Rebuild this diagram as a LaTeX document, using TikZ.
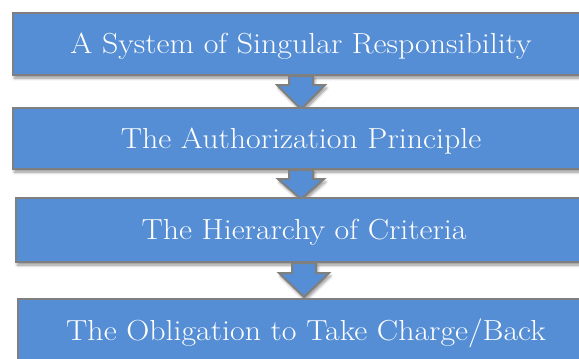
\documentclass[tikz,border=0pt]{standalone}
\usepackage{graphicx}
\usetikzlibrary{shadows.blur}
\definecolor{boxblue}{RGB}{85,142,213}
\definecolor{boxgray}{RGB}{127,127,127}
\newcommand{\wide}[1]{\raisebox{-2.5pt}[\height][\depth]{\scalebox{1.1}[1]{#1}}}
\tikzset{
  stepbox/.style={draw=boxgray, line width=2pt, fill=boxblue, text=white,
    rectangle, anchor=north west, minimum width=576pt, inner sep=0pt,
    font=\fontsize{29}{33}\selectfont,
    blur shadow={shadow xshift=1.5pt, shadow yshift=-3pt, shadow blur radius=3pt, shadow blur steps=6, shadow opacity=45}},
  blockarrow/.style={draw=boxgray, line width=2pt, fill=boxblue, line join=miter,
    blur shadow={shadow xshift=1.5pt, shadow yshift=-3pt, shadow blur radius=3pt, shadow blur steps=6, shadow opacity=45}}
}
\begin{document}
\begin{tikzpicture}[x=1pt, y=-1pt]
\useasboundingbox (0,0) rectangle (579,359);
\clip (0,0) rectangle (579,359);
\node[stepbox, minimum height=62pt] (b1) at (12,12) {\wide{A System of Singular Responsibility}};
\draw[blockarrow] ([xshift=-12pt]b1.south) -- ++(0,9) -- ++(-12,0) -- ++(24,24) -- ++(24,-24) -- ++(-12,0) -- ++(0,-9) -- cycle;
\node[stepbox, minimum height=61pt] (b2) at (12,107) {\wide{The Authorization Principle}};
\draw[blockarrow] ([xshift=-12pt]b2.south) -- ++(0,9) -- ++(-11,0) -- ++(23,20) -- ++(23,-20) -- ++(-11,0) -- ++(0,-9) -- cycle;
\node[stepbox, minimum height=64pt] (b3) at (15,197) {\wide{The Hierarchy of Criteria}};
\draw[blockarrow] ([xshift=-12pt]b3.south) -- ++(0,10) -- ++(-13,0) -- ++(25,24) -- ++(25,-24) -- ++(-13,0) -- ++(0,-10) -- cycle;
\node[stepbox, minimum height=64pt] (b4) at (17,298) {\wide{The Obligation to Take Charge/Back}};
\end{tikzpicture}
\end{document}
